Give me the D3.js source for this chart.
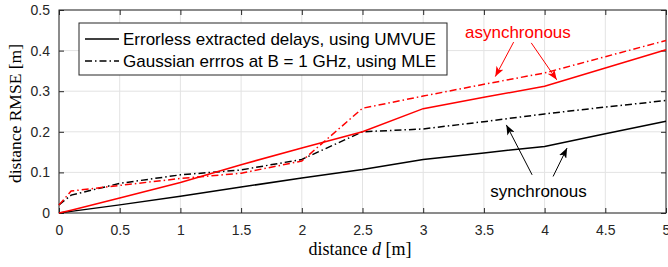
<!DOCTYPE html>
<html>
<head>
<meta charset="utf-8">
<script src="https://cdn.jsdelivr.net/npm/d3@7"></script>
<style>
  body { margin: 0; background: #fff; }
  svg { display: block; }
</style>
</head>
<body>
<svg width="668" height="267"></svg>
<script>
// distances [m]
const dist = [0, 0.1, 0.5, 1, 1.5, 2, 2.5, 3, 3.5, 4, 4.5, 5];

// RMSE [m]
const syncUmvue  = [0, 0.004, 0.02, 0.041, 0.064, 0.086, 0.107, 0.132, 0.148, 0.164, 0.195, 0.226];
const asyncUmvue = [0, 0.007, 0.037, 0.075, 0.119, 0.160, 0.200, 0.257, 0.285, 0.312, 0.357, 0.402];
const syncMle    = [0.02, 0.044, 0.073, 0.094, 0.106, 0.132, 0.200, 0.207, 0.225, 0.244, 0.261, 0.277];
const asyncMle   = [0.02, 0.054, 0.068, 0.085, 0.098, 0.128, 0.258, 0.288, 0.317, 0.345, 0.385, 0.425];

const xTicks = [0, 0.5, 1, 1.5, 2, 2.5, 3, 3.5, 4, 4.5, 5];
const yTicks = [0, 0.1, 0.2, 0.3, 0.4, 0.5];

const legendLabels = ["Errorless extracted delays, using UMVUE",
                      "Gaussian errros at B = 1 GHz, using MLE"];

let svg = d3.select("svg");
let margin = {left: 59, right: 2, top: 10, bottom: 54};
let W = 668, H = 267;

let x = d3.scaleLinear().domain([0, 5]).range([margin.left, W - margin.right]);
let y = d3.scaleLinear().domain([0, 0.5]).range([H - margin.bottom, margin.top]);

const axisColor = "#262626";
const dashDot = "7,3,1.5,3";
const sans = "Liberation Sans, Arial, sans-serif";
const serif = "Liberation Serif, Times New Roman, serif";

// grid
svg.append("g")
    .selectAll("line.gx")
    .data(xTicks)
    .enter().append("line")
    .attr("x1", d => x(d)).attr("x2", d => x(d))
    .attr("y1", y(0)).attr("y2", y(0.5))
    .attr("stroke", "#e3e3e3").attr("stroke-width", 1);

svg.append("g")
    .selectAll("line.gy")
    .data(yTicks)
    .enter().append("line")
    .attr("x1", x(0)).attr("x2", x(5))
    .attr("y1", d => y(d)).attr("y2", d => y(d))
    .attr("stroke", "#e3e3e3").attr("stroke-width", 1);

// axes, ticks inside
function styleAxis(g) {
  g.select(".domain").remove();
  g.selectAll(".tick line").attr("stroke", axisColor);
  g.selectAll("text")
      .attr("fill", axisColor)
      .style("font-family", sans)
      .style("font-size", "14px");
}

svg.append("g")
    .attr("transform", "translate(0," + y(0) + ")")
    .call(d3.axisBottom(x).tickValues(xTicks).tickSize(-5).tickPadding(12)
          .tickFormat(d3.format("")))
    .call(styleAxis);

svg.append("g")
    .attr("transform", "translate(0," + y(0.5) + ")")
    .call(d3.axisTop(x).tickValues(xTicks).tickSize(-5).tickFormat(""))
    .call(styleAxis);

svg.append("g")
    .attr("transform", "translate(" + x(0) + ",0)")
    .call(d3.axisLeft(y).tickValues(yTicks).tickSize(-5).tickPadding(9)
          .tickFormat(d3.format("")))
    .call(styleAxis);

svg.append("g")
    .attr("transform", "translate(" + x(5) + ",0)")
    .call(d3.axisRight(y).tickValues(yTicks).tickSize(-5).tickFormat(""))
    .call(styleAxis);

svg.append("rect")
    .attr("x", x(0)).attr("y", y(0.5))
    .attr("width", x(5) - x(0)).attr("height", y(0) - y(0.5))
    .attr("fill", "none").attr("stroke", axisColor).attr("stroke-width", 1);

// series
let line = d3.line()
    .x((d, i) => x(dist[i]))
    .y(d => y(d));

let series = [
  {values: syncUmvue,  color: "#000", dash: null},
  {values: syncMle,    color: "#000", dash: dashDot},
  {values: asyncUmvue, color: "#ff0000", dash: null},
  {values: asyncMle,   color: "#ff0000", dash: dashDot}
];

svg.selectAll(".series")
    .data(series)
    .enter().append("path")
    .classed("series", true)
    .attr("d", d => line(d.values))
    .attr("fill", "none")
    .attr("stroke", d => d.color)
    .attr("stroke-width", 1.5)
    .attr("stroke-dasharray", d => d.dash);

// arrowheads
let defs = svg.append("defs");
[["headRed", "#ff0000"], ["headBlack", "#000"]].forEach(function (m) {
  defs.append("marker")
      .attr("id", m[0])
      .attr("viewBox", "0 0 10 8")
      .attr("refX", 10).attr("refY", 4)
      .attr("markerWidth", 10).attr("markerHeight", 8)
      .attr("markerUnits", "userSpaceOnUse")
      .attr("orient", "auto")
      .append("path")
      .attr("d", "M0,0 L10,4 L0,8 L2.5,4 Z")
      .attr("fill", m[1]);
});

// annotations in data units
let arrows = [
  {from: [3.745, 0.421], to: [3.594, 0.336], color: "#ff0000", head: "headRed"},
  {from: [3.89, 0.419],  to: [4.10, 0.328],  color: "#ff0000", head: "headRed"},
  {from: [3.897, 0.094], to: [3.685, 0.217], color: "#000", head: "headBlack"},
  {from: [4.07, 0.09],   to: [4.185, 0.16],  color: "#000", head: "headBlack"}
];

svg.selectAll(".arrow")
    .data(arrows)
    .enter().append("line")
    .classed("arrow", true)
    .attr("x1", d => x(d.from[0])).attr("y1", d => y(d.from[1]))
    .attr("x2", d => x(d.to[0])).attr("y2", d => y(d.to[1]))
    .attr("stroke", d => d.color)
    .attr("stroke-width", 1)
    .attr("marker-end", d => "url(#" + d.head + ")");

svg.append("text")
    .attr("x", x(3.78)).attr("y", y(0.445))
    .attr("dy", "0.35em")
    .attr("text-anchor", "middle")
    .attr("fill", "#ff0000")
    .style("font-family", sans)
    .style("font-size", "17px")
    .text("asynchronous");

svg.append("text")
    .attr("x", x(3.95)).attr("y", y(0.053))
    .attr("dy", "0.35em")
    .attr("text-anchor", "middle")
    .attr("fill", "#000")
    .style("font-family", sans)
    .style("font-size", "17px")
    .text("synchronous");

// legend
let legend = svg.append("g").attr("transform", "translate(79,23)");
legend.append("rect")
    .attr("width", 368).attr("height", 52)
    .attr("fill", "#fff").attr("stroke", axisColor).attr("stroke-width", 1);

let items = legend.selectAll(".item")
    .data(legendLabels)
    .enter().append("g")
    .classed("item", true)
    .attr("transform", (d, i) => "translate(0," + (16 + i * 22) + ")");

items.append("line")
    .attr("x1", 6).attr("x2", 40)
    .attr("stroke", "#000").attr("stroke-width", 1.5)
    .attr("stroke-dasharray", (d, i) => i === 1 ? dashDot : null);

items.append("text")
    .attr("x", 44)
    .attr("dy", "0.35em")
    .style("font-family", sans)
    .style("font-size", "17px")
    .text(d => d);

// axis labels
svg.append("text")
    .attr("transform", "translate(21," + y(0.245) + ") rotate(-90)")
    .attr("text-anchor", "middle")
    .style("font-family", serif)
    .style("font-size", "17.5px")
    .text("distance RMSE [m]");

let xl = svg.append("text")
    .attr("x", x(2.48)).attr("y", 255)
    .attr("text-anchor", "middle")
    .style("font-family", serif)
    .style("font-size", "18px");
xl.append("tspan").text("distance ");
xl.append("tspan").style("font-style", "italic").text("d");
xl.append("tspan").text(" [m]");
</script>
</body>
</html>
